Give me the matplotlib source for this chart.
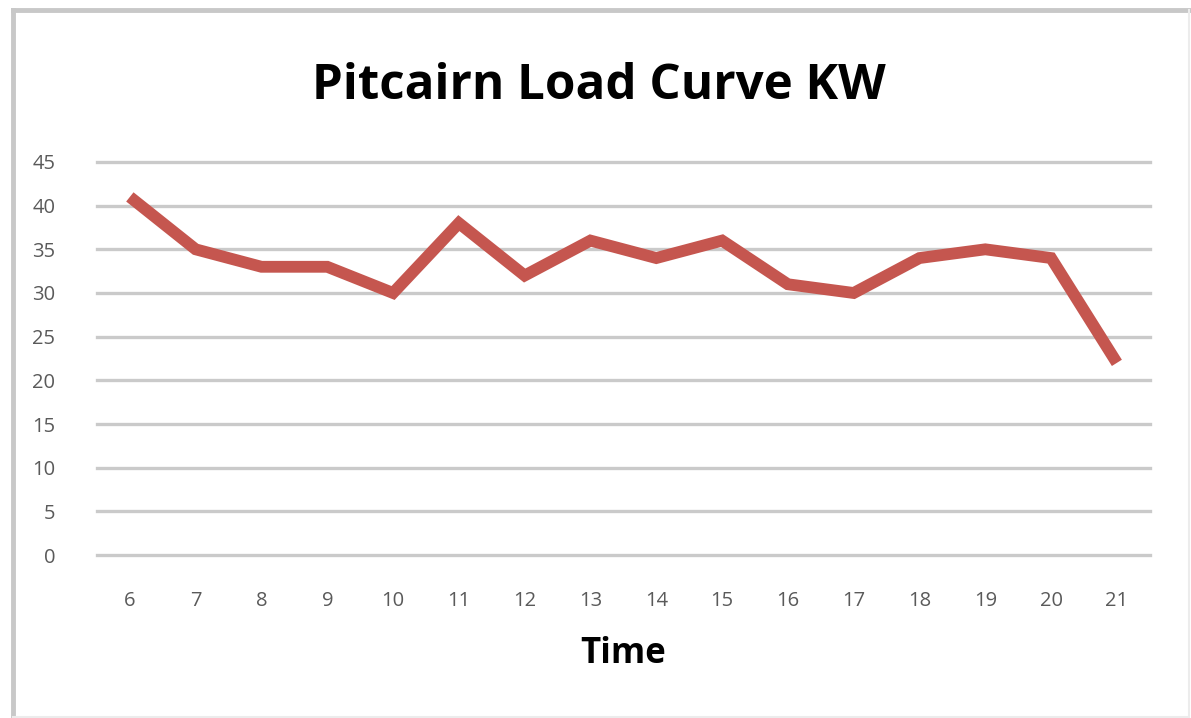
import matplotlib
matplotlib.use("Agg")
from matplotlib import pyplot as plt

hours = [6, 7, 8, 9, 10, 11, 12, 13, 14, 15, 16, 17, 18, 19, 20, 21]
load_kw = [41, 35, 33, 33, 30, 38, 32, 36, 34, 36, 31, 30, 34, 35, 34, 22]
y_ticks = [0, 5, 10, 15, 20, 25, 30, 35, 40, 45]

plt.rcParams['font.family'] = ['Open Sans', 'DejaVu Sans']

fig = plt.figure(figsize=(11.91, 7.18), dpi=100)
ax = fig.add_axes([0.0814, 0.227, 0.884, 0.5474])

ax.plot(hours, load_kw, color="#c5564f", lw=8.5, solid_joinstyle="miter", solid_capstyle="butt", zorder=5)

ax.set_xlim(5.5, 21.5)
ax.set_ylim(0, 45)
ax.set_yticks(y_ticks)
ax.set_xticks(hours)
ax.grid(axis="y", color="#cacaca", lw=2.4)
ax.set_axisbelow(True)
for gl in ax.get_ygridlines():
    gl.set_clip_on(False)
for side in ax.spines.values():
    side.set_visible(False)
ax.tick_params(length=0, labelcolor="#5a5a5a", labelsize=14.5)
ax.tick_params(axis="y", pad=30)
ax.tick_params(axis="x", pad=26)

ax.set_xlabel("Time", fontsize=25, fontweight="bold", labelpad=18)
fig.text(0.5025, 0.879, "Pitcairn Load Curve KW", ha="center", va="center",
         fontsize=35.5, fontweight="bold")

# outer frame: left/top darker than right/bottom like the screenshot
fig.add_artist(plt.Line2D([0.0105, 0.0105], [0.0, 0.986], transform=fig.transFigure,
                          color="#c8c8c8", lw=3.5))
fig.add_artist(plt.Line2D([0.0105, 0.998], [0.986, 0.986], transform=fig.transFigure,
                          color="#c8c8c8", lw=3.5))
fig.add_artist(plt.Line2D([0.998, 0.998], [0.0, 0.986], transform=fig.transFigure,
                          color="#ececec", lw=1.5))
fig.add_artist(plt.Line2D([0.0105, 0.998], [0.002, 0.002], transform=fig.transFigure,
                          color="#ececec", lw=1.5))

fig.savefig("out.png", dpi=100, facecolor="white")
